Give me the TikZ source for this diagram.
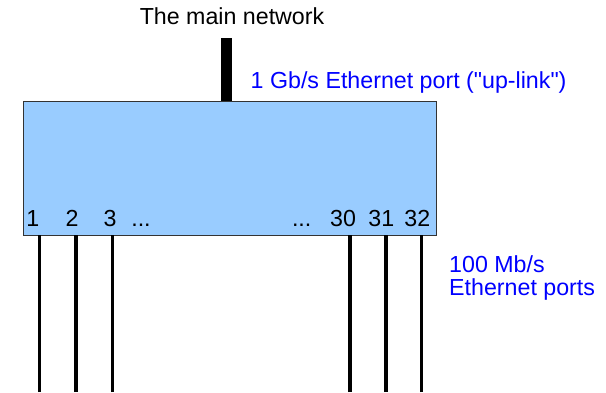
\documentclass[tikz,border=0pt]{standalone}
\usepackage{fontspec}
\setmainfont{Liberation Sans}
\usetikzlibrary{positioning}
\definecolor{switchblue}{RGB}{153,204,255}
\definecolor{linkblue}{RGB}{0,0,255}

\begin{document}
\begin{tikzpicture}[x=1bp, y=1bp,
  every node/.style={font=\fontsize{23.3}{23.4}\selectfont, inner sep=0pt},
  switchbox/.style={draw=black!80, fill=switchblue, line width=0.9bp, minimum width=413bp, minimum height=134bp},
  uplinkbar/.style={black, line width=11bp},
  cable/.style={black, line width=3.5bp},
  portlabel/.style={anchor=base},
  bluetext/.style={text=linkblue, anchor=base west, align=left}]

\useasboundingbox (0,0) rectangle (606,392);

% switch
\node[switchbox] (switch) at (229.5,224) {};

% up-link
\coordinate (net) at (226.5,354);
\draw[uplinkbar] (net) -- (net |- switch.north);

\node[anchor=base] (mainnet) at (232,368) {The main network};
\node[bluetext] (uplink) at (250.5,304) {1 Gb/s Ethernet port (\textquotedbl up-link\textquotedbl)};

% ports
\foreach \n/\x/\lx in {1/39.3/32.8, 2/76/72, 3/112.3/110, 30/350/343, 31/386/381.3, 32/421.7/417.3}{
  \coordinate (p\n) at (\x,0);
  \draw[cable] (p\n) -- (p\n |- switch.south);
  \node[portlabel] (lab\n) at (\lx,165.3) {\n};
}

\node[portlabel] (dotsa) at (141,165.3) {...};
\node[portlabel] (dotsb) at (301.7,165.3) {...};

\node[bluetext] (ports) at (449,96.6) {100 Mb/s\\Ethernet ports};

\end{tikzpicture}
\end{document}
